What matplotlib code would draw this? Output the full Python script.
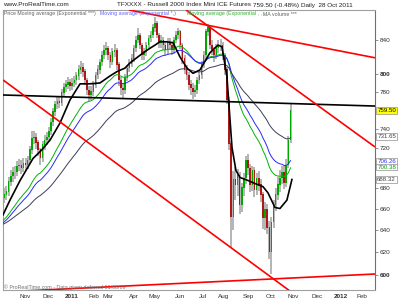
import numpy as np
import matplotlib
matplotlib.use("Agg")
import matplotlib.pyplot as plt
from matplotlib.transforms import blended_transform_factory

# 2-day candles, Oct 2010 -> 28 Oct 2011
first_open = 670
closes = [
    673, 676, 686, 691, 695, 695, 701, 702, 699, 704,
    702, 707, 718, 730, 731, 725, 718, 709, 723, 728,
    731, 737, 747, 758, 766, 769, 768, 779, 785, 788,
    791, 787, 790, 793, 798, 805, 808, 803, 793, 782,
    777, 780, 788, 799, 805, 814, 822, 828, 830, 822,
    814, 826, 828, 811, 793, 784, 782, 796, 807, 812,
    818, 830, 840, 846, 834, 822, 826, 834, 842, 846,
    855, 860, 846, 836, 840, 834, 828, 837, 834, 828,
    840, 846, 850, 834, 818, 805, 799, 788, 784, 780,
    782, 793, 799, 811, 822, 850, 855, 834, 828, 822,
    830, 834, 834, 822, 805, 771, 724, 652, 688, 683,
    692, 663, 680, 689, 707, 699, 683, 697, 678, 689,
    683, 673, 651, 659, 642, 620, 647, 663, 673, 683,
    689, 695, 685, 702, 728, 759.5]
highs = [
    680, 682, 690, 697, 700, 701, 706, 708, 707, 710,
    709, 712, 722, 737, 738, 735, 728, 720, 727, 733,
    736, 742, 751, 762, 770, 775, 775, 783, 790, 793,
    797, 795, 796, 798, 803, 810, 815, 813, 806, 796,
    786, 787, 792, 803, 810, 818, 827, 834, 838, 833,
    826, 830, 835, 830, 814, 797, 790, 800, 811, 817,
    823, 834, 845, 855, 849, 837, 831, 838, 846, 851,
    860, 868, 863, 849, 846, 844, 838, 842, 842, 838,
    844, 851, 855, 852, 837, 822, 810, 803, 793, 790,
    788, 797, 804, 815, 827, 853, 860, 857, 840, 832,
    835, 840, 841, 838, 825, 808, 774, 727, 696, 700,
    698, 695, 685, 694, 712, 714, 703, 701, 700, 694,
    696, 688, 676, 666, 664, 648, 652, 668, 680, 690,
    697, 701, 702, 708, 732, 768]
lows = [
    665, 668, 672, 682, 686, 688, 691, 696, 693, 695,
    697, 698, 703, 714, 724, 719, 712, 702, 705, 718,
    723, 727, 733, 743, 754, 761, 762, 764, 775, 780,
    783, 781, 782, 785, 788, 793, 800, 797, 788, 776,
    770, 771, 775, 784, 794, 800, 809, 817, 822, 816,
    807, 810, 820, 805, 787, 776, 772, 778, 792, 802,
    808, 814, 826, 836, 829, 816, 816, 821, 830, 838,
    842, 850, 842, 830, 831, 828, 822, 824, 828, 822,
    824, 836, 841, 829, 812, 800, 793, 782, 777, 772,
    774, 778, 789, 795, 807, 818, 845, 829, 822, 814,
    818, 825, 827, 816, 799, 766, 718, 624, 640, 668,
    672, 655, 657, 672, 684, 692, 676, 677, 671, 673,
    677, 666, 641, 640, 636, 614, 601, 642, 658, 668,
    676, 684, 679, 681, 699, 725]

# black "Price Moving average" line (trading day, value)
black_days = [0.2, 6.8, 16.3, 28.5, 37.0, 44.6, 54.0, 63.4, 72.9, 82.3,
              91.7, 101.2, 107.8, 115.3, 120.0, 129.5, 136.1, 143.6, 148.3, 154.0,
              160.6, 167.2, 173.8, 179.5, 186.1, 195.5, 203.1, 206.8, 211.5, 216.3,
              220.0, 223.8, 231.4, 238.0, 245.5, 250.2, 256.8, 261.5, 268.1, 272.8]
black_values = [654, 668, 687, 709, 718, 728, 746, 771, 789, 789,
                790, 798, 803, 807, 813, 822, 828, 834, 838, 838,
                837, 820, 807, 801, 805, 825, 834, 832, 797, 720,
                697, 690, 687, 684, 681, 675, 661, 660, 668, 688]

# x axis is in trading days from 1 Oct 2010
month_pos = [21, 42.7, 65.3, 86, 99.3, 123.8, 143.6, 167.2, 188.9,
             208.7, 231.4, 253.1, 273.8, 296.5, 319.1, 338.9]
month_labels = ["Nov", "Dec", "2011", "Feb", "Mar", "Apr", "May", "Jun",
                "Jul", "Aug", "Sep", "Oct", "Nov", "Dec", "2012", "Feb"]
price_ticks = [600, 620, 640, 660, 680, 720, 740, 780, 800, 840]

# exponential moving averages: period (days), value at left edge, colour
ema_days = [50, 65, 120]
ema_seeds = [648, 646, 645]
ema_colors = ["#00b400", "#2828ff", "#3c3c5a"]

# last values printed on the right axis
value_labels = ["759.50", "731.65", "706.26", "700.38", "688.32"]
value_levels = [759.5, 731.65, 706.26, 700.38, 688.32]
value_text_colors = ["black", "#404040", "#3030ff", "#00a000", "#404040"]
value_faces = ["#ffff00", "white", "white", "white", "white"]

# trend lines drawn by hand on the chart: (day, price) endpoints
trend_lines = [
    ((0.2, 776.5), (351.2, 764.3), "black"),
    ((119.0, 877.0), (351.2, 819.0), "red"),
    ((172.9, 877.0), (351.2, 720.8), "red"),
    ((0.2, 793.4), (271.0, 586.4), "red"),
    ((0.2, 585.7), (351.2, 600.9), "red"),
]


def ema(values, days, seed):
    alpha = 2.0 / (days / 2.0 + 1.0)   # one candle = two sessions
    out, prev = [], seed
    for v in values:
        prev = prev + alpha * (v - prev)
        out.append(prev)
    return np.array(out)


plt.rcParams['font.family'] = ['Liberation Sans', 'DejaVu Sans']

fig = plt.figure(figsize=(4, 3), dpi=100)
ax = fig.add_axes([3 / 400, 10 / 300, 372 / 400, 280 / 300])
ax.set_yscale('log')
ax.set_ylim(587.3, 877)
ax.set_xlim(0.2, 351.2)

closes_a = np.array(closes, dtype=float)
opens_a = np.array([first_open] + closes[:-1], dtype=float)
pos = np.arange(len(closes)) * 2 + 1.5

# candles
ax.vlines(pos, lows, highs, color="#a0a0a0", lw=1.1, zorder=2)
up = closes_a >= opens_a
body_col = np.where(up, "#00a800", "#b01818")
ax.bar(pos, np.abs(closes_a - opens_a) + 0.5, bottom=np.minimum(opens_a, closes_a),
       width=1.5, color=body_col, lw=0, zorder=3)

# moving averages
for d, s, c in zip(ema_days, ema_seeds, ema_colors):
    line = ema(closes, d, s)
    ax.plot(np.r_[pos[0] - 2, pos], np.r_[s, line], color=c, lw=0.7, zorder=4)
ax.plot(black_days, black_values, color="black", lw=1.2, zorder=4)

# trend lines
for (x0, p0), (x1, p1), c in trend_lines:
    ax.plot([x0, x1], [p0, p1], color=c, lw=1.2, zorder=5, solid_capstyle='butt')

# axes styling
ax.yaxis.tick_right()
ax.set_yticks(price_ticks)
ax.set_yticklabels([str(t) for t in price_ticks])
ax.yaxis.set_minor_locator(plt.NullLocator())
for lab, t in zip(ax.get_yticklabels(), price_ticks):
    if t % 100 == 0:
        lab.set_fontweight('bold')
ax.tick_params(axis='y', which='both', length=2, width=0.6, color="#808080",
               labelsize=4.6, labelcolor="#303030", pad=1.5)
ax.set_xticks(month_pos)
ax.set_xticklabels(month_labels)
for lab, m in zip(ax.get_xticklabels(), month_labels):
    if m.isdigit():
        lab.set_fontweight('bold')
ax.tick_params(axis='x', length=0, labelsize=4.6, labelcolor="#303030", pad=3)
for sp in ax.spines.values():
    sp.set_color("#a0a0a0")
    sp.set_linewidth(0.8)
ax.spines['right'].set_color("#707070")

# value boxes on the right axis
tr = blended_transform_factory(ax.transAxes, ax.transData)
for txt, lev, tc, fc in zip(value_labels, value_levels, value_text_colors, value_faces):
    ax.text(1.006, lev, txt, transform=tr, fontsize=4.4, color=tc, va='center', ha='left',
            bbox=dict(boxstyle='square,pad=0.15', fc=fc, ec="#909090", lw=0.5),
            zorder=6, clip_on=False)


# header and legend texts (figure pixel positions)
def fx(x):
    return x / 400


def fy(y):
    return 1 - y / 300


fig.text(fx(3), fy(5), "www.ProRealTime.com", fontsize=4.6, color="#202020", va='center')
fig.text(fx(117), fy(5), "TFXXXX - Russell 2000 Index Mini ICE Futures", fontsize=4.6,
         color="#202020", va='center')
fig.text(fx(253), fy(5), "759.50 (-0.48%)", fontsize=4.6, color="#202020", va='center')
fig.text(fx(301), fy(5), "Daily  28 Oct 2011", fontsize=4.6, color="#202020", va='center')

fig.text(fx(4), fy(14), "Price Moving average (Exponential ***)", fontsize=3.8,
         color="#606060", va='center')
fig.text(fx(100), fy(14), "Moving average (Exponential *,)", fontsize=3.8,
         color="#6060ff", va='center')
fig.text(fx(187), fy(14), "Moving average (Exponential , , ,", fontsize=3.8,
         color="#30b030", va='center')
fig.text(fx(263), fy(14), "MA volume ***", fontsize=3.8, color="#606060", va='center')

fig.text(fx(4), fy(287), "\u00a9 ProRealTime.com - Data given deferred 01/08/09",
         fontsize=3.8, color="#707070", va='center')

fig.savefig("out.png", dpi=100)
